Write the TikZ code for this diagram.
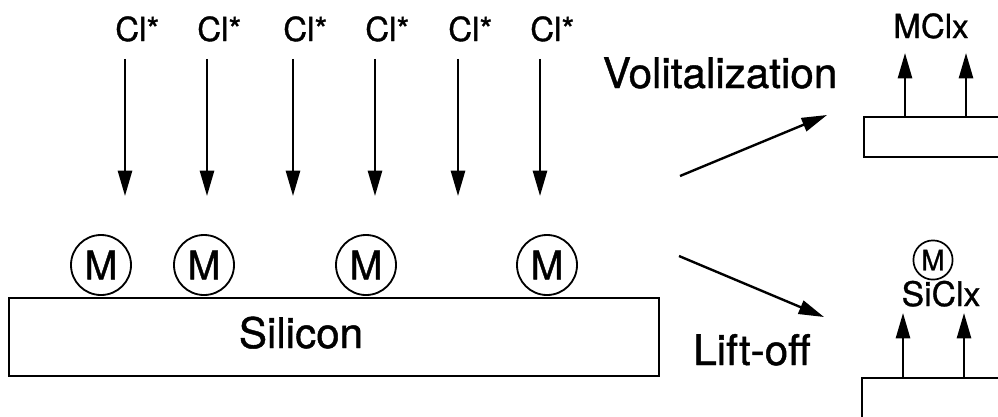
\documentclass[tikz,border=0pt]{standalone}
\usepackage{fontspec}
\setmainfont{TeX Gyre Heros}[FakeBold=1]
\usetikzlibrary{arrows.meta}
\tikzset{
  flux/.style={line width=1.7pt,-{Triangle[length=18pt,width=10pt]}},
  metal/.style={circle,draw,line width=1.3pt,minimum size=1.5cm,inner sep=0pt,font=\fontsize{28}{32}\selectfont},
  smetal/.style={circle,draw,line width=1.2pt,minimum size=0.98cm,inner sep=0pt,font=\fontsize{20}{24}\selectfont},
  wafer/.style={draw,line width=1.6pt,inner sep=0pt,anchor=north west},
  clab/.style={inner sep=0pt,font=\fontsize{23.5}{27}\selectfont},
  blab/.style={inner sep=0pt,anchor=base,font=\fontsize{30}{35}\selectfont},
  every picture/.style={x=0.025cm,y=-0.025cm}
}
\begin{document}
\begin{tikzpicture}
  \useasboundingbox (0,0) rectangle (998,416);
  \clip (0,0) rectangle (998,416);
  % silicon wafer with metal contaminants
  \node[wafer,minimum width=16.25cm,minimum height=1.95cm] (si) at (8,297) {};
  \node[blab] (silbl) at (301,348) {Silicon};
  \foreach \x [count=\i] in {101,204,366,547} \node[metal] (m\i) at (\x,265) {M};
  % incoming chlorine
  \foreach \x [count=\i] in {125,207,293,375,458,540} {
    \node[clab,anchor=base west] (cl\i) at (\x-10,41) {Cl*};
    \coordinate (hit\i) at (\x,196);
    \draw[flux,shorten <=12pt] (cl\i.south -| hit\i) -- (hit\i);
  }
  % two pathways
  \coordinate (up0) at (680,176); \coordinate (up1) at (827,115);
  \draw[flux] (up0) -- (up1);
  \coordinate (dn0) at (679,256); \coordinate (dn1) at (824,317);
  \draw[flux] (dn0) -- (dn1);
  \node[blab] (vol) at (720,88) {Volitalization};
  \node[blab] (lift) at (752,365) {Lift-off};
  % volatile products
  \node[wafer,minimum width=5cm,minimum height=1cm] (vbox) at (863,116) {};
  \coordinate (v1) at (905,53); \coordinate (v2) at (966,53);
  \draw[flux] (v1 |- vbox.north) -- (v1); \draw[flux] (v2 |- vbox.north) -- (v2);
  \node[clab,anchor=base] (mclx) at (931,38) {MClx};
  % lifted-off products
  \node[wafer,minimum width=5cm,minimum height=2cm] (lbox) at (861,377) {};
  \coordinate (l1) at (903,313); \coordinate (l2) at (964,313);
  \draw[flux] (l1 |- lbox.north) -- (l1); \draw[flux] (l2 |- lbox.north) -- (l2);
  \node[clab,anchor=base,font=\fontsize{24}{28}\selectfont] (siclx) at (941,306) {SiClx};
  \node[smetal] (ms) at (933,260) {M};
\end{tikzpicture}
\end{document}
